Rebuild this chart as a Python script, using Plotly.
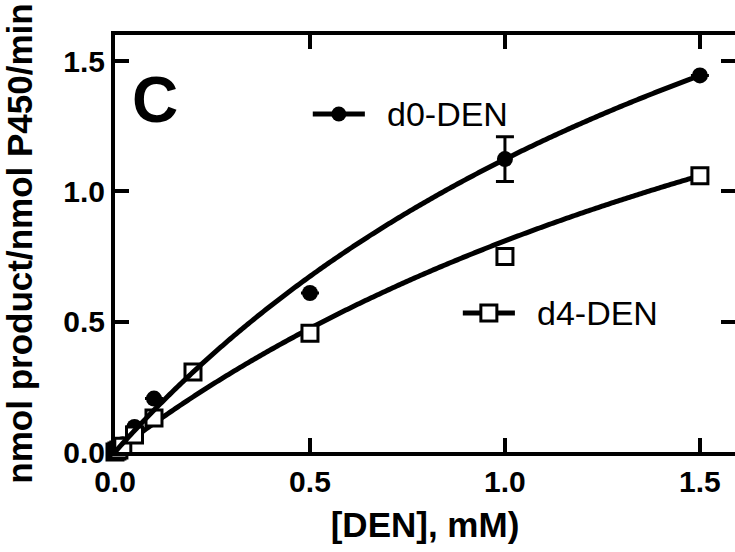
import plotly.graph_objects as go
import numpy as np

# Substrate concentrations, mM
conc = [0.0, 0.005, 0.01, 0.02, 0.05, 0.1, 0.2, 0.5, 1.0, 1.5]

# Rates, nmol product / nmol P450 / min
d0_rate = [0.0, 0.005, 0.01, 0.03, 0.096, 0.205, 0.31, 0.61, 1.124, 1.445]
d0_err = [None, None, None, None, None, None, None, None, 0.086, None]
d4_rate = [0.0, 0.004, 0.008, 0.022, 0.065, 0.13, 0.307, 0.456, 0.75, 1.06]

# Michaelis-Menten fit parameters (Vmax, Km)
d0_fit = (3.37, 2.0)
d4_fit = (2.77, 2.42)

x_ticks = [0.0, 0.5, 1.0, 1.5]
x_tick_text = ["0.0", "0.5", "1.0", "1.5"]
y_ticks = [0.0, 0.5, 1.0, 1.5]
y_tick_text = ["0.0", "0.5", "1.0", "1.5"]

FONT = "Liberation Sans, Arial, sans-serif"
INK = "black"

x_fit = np.linspace(0, max(conc), 300)


def mm(v):
    vmax, km = v
    return vmax * x_fit / (km + x_fit)


fig = go.Figure()

fig.add_trace(go.Scatter(
    x=conc, y=d0_rate, mode="markers", name="d0-DEN",
    marker=dict(symbol="circle", size=16, color=INK),
    error_y=dict(type="data", array=d0_err, color=INK, thickness=3, width=9),
    cliponaxis=False, showlegend=False,
))
fig.add_trace(go.Scatter(
    x=x_fit, y=mm(d4_fit), mode="lines",
    line=dict(color=INK, width=5, simplify=False),
    cliponaxis=False, showlegend=False,
))
fig.add_trace(go.Scatter(
    x=conc, y=d4_rate, mode="markers", name="d4-DEN",
    marker=dict(symbol="square", size=16, color="white",
                line=dict(color=INK, width=3)),
    cliponaxis=False, showlegend=False,
))
fig.add_trace(go.Scatter(
    x=x_fit, y=mm(d0_fit), mode="lines",
    line=dict(color=INK, width=5, simplify=False),
    cliponaxis=False, showlegend=False,
))
# empty trace that carries the mirrored top/right axes
fig.add_trace(go.Scatter(x=[], y=[], xaxis="x2", yaxis="y2", showlegend=False))

tickfont = dict(family=FONT, size=30, color=INK, weight="bold")

fig.update_layout(
    width=735, height=552,
    margin=dict(l=115, r=0, t=35, b=100),
    paper_bgcolor="white", plot_bgcolor="white",
    font=dict(family=FONT, color=INK),
    xaxis=dict(
        range=[0, 1.59], showgrid=False, zeroline=False,
        showline=True, linewidth=4, linecolor=INK,
        ticks="inside", ticklen=14, tickwidth=4, tickcolor=INK,
        tickvals=x_ticks, ticktext=x_tick_text, tickfont=tickfont,
        title=dict(text="[DEN], mM)", standoff=16,
                   font=dict(family=FONT, size=35, color=INK, weight="bold")),
    ),
    yaxis=dict(
        range=[0, 1.6], showgrid=False, zeroline=False,
        showline=True, linewidth=4, linecolor=INK,
        ticks="inside", ticklen=14, tickwidth=4, tickcolor=INK,
        tickvals=y_ticks, ticktext=y_tick_text, tickfont=tickfont,
        title=dict(text="nmol product/nmol P450/min", standoff=26,
                   font=dict(family=FONT, size=35, color=INK, weight="bold")),
    ),
    xaxis2=dict(
        overlaying="x", matches="x", side="top", anchor="y2",
        showgrid=False, zeroline=False, showline=True, linewidth=4,
        linecolor=INK, ticks="inside", ticklen=14, tickwidth=4,
        tickcolor=INK, tickvals=x_ticks, showticklabels=False,
    ),
    yaxis2=dict(
        overlaying="y", matches="y", side="right", anchor="x2",
        showgrid=False, zeroline=False, showline=False,
        ticks="inside", ticklen=14, tickwidth=4, tickcolor=INK,
        tickvals=y_ticks, showticklabels=False,
    ),
    showlegend=False,
)

# panel letter
fig.add_annotation(
    text="C", xref="paper", yref="paper", x=0.0645, y=0.845,
    xanchor="center", yanchor="middle", showarrow=False,
    font=dict(family=FONT, size=64, color=INK, weight="bold"),
)

# legend keys: line segment + symbol + label
def legend_key(xl, xr, y, symbol, label):
    fig.add_shape(type="line", xref="paper", yref="paper",
                  x0=xl, x1=xr, y0=y, y1=y,
                  line=dict(color=INK, width=5))
    xc = (xl + xr) / 2
    if symbol == "circle":
        fig.add_shape(type="circle", xref="paper", yref="paper",
                      xsizemode="pixel", ysizemode="pixel",
                      xanchor=xc, yanchor=y, x0=-7.5, x1=7.5, y0=-7.5, y1=7.5,
                      fillcolor=INK, line=dict(color=INK, width=0))
    else:
        fig.add_shape(type="rect", xref="paper", yref="paper",
                      xsizemode="pixel", ysizemode="pixel",
                      xanchor=xc, yanchor=y, x0=-8, x1=8, y0=-8, y1=8,
                      fillcolor="white", line=dict(color=INK, width=3))
    fig.add_annotation(
        text=label, xref="paper", yref="paper", x=xr + 0.033, y=y,
        xanchor="left", yanchor="middle", showarrow=False,
        font=dict(family=FONT, size=34, color=INK),
    )


legend_key(0.319, 0.403, 0.8106, "circle", "d0-DEN")
legend_key(0.561, 0.645, 0.3333, "square", "d4-DEN")

fig.write_html("out.html")
